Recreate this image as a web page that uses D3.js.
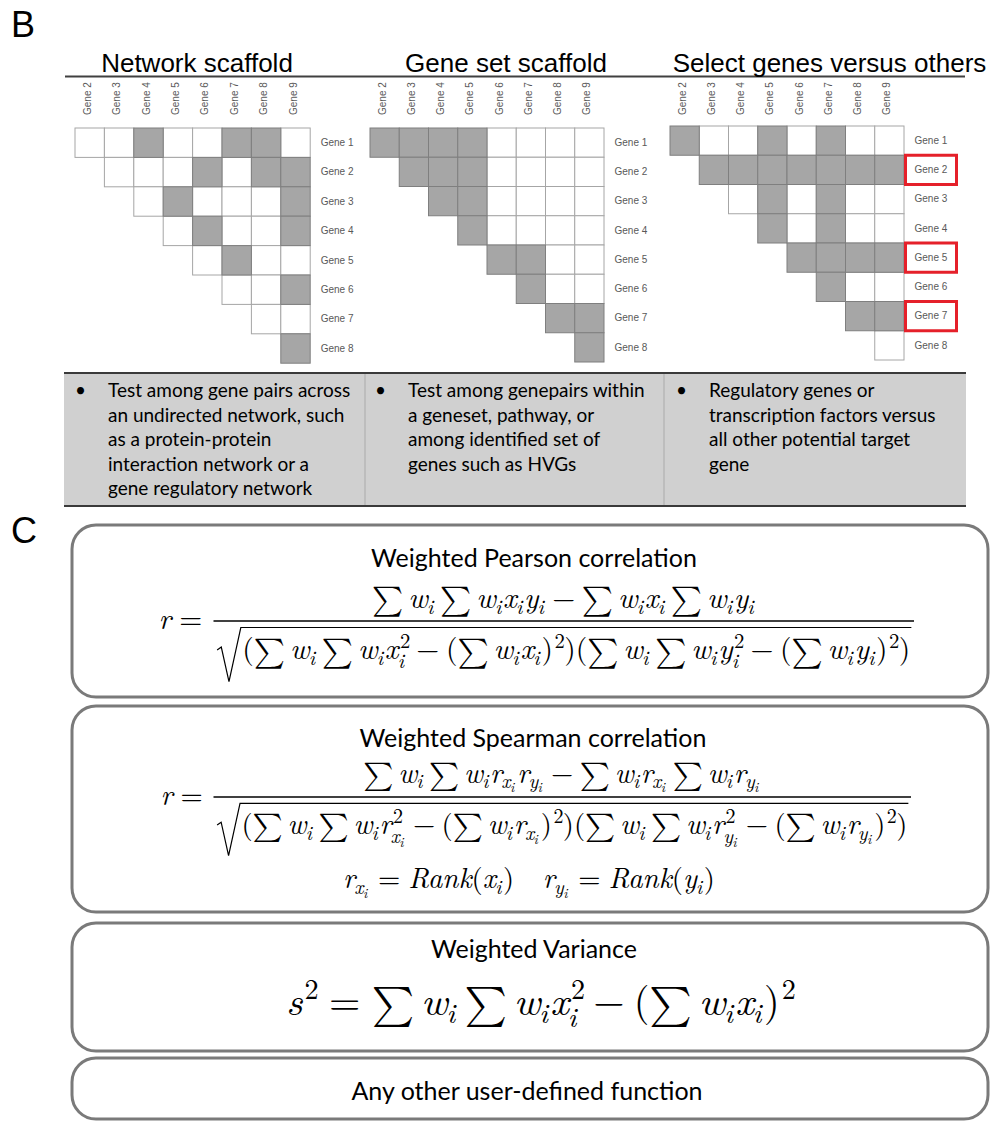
<!DOCTYPE html>
<html>
<head>
<meta charset="utf-8">
<script src="https://cdn.jsdelivr.net/npm/d3@7"></script>
<style>
  body { margin: 0; background: #fff; }
  svg { display: block; }
</style>
</head>
<body>
<svg id="fig" width="993" height="1122"></svg>
<script>
// ---------------- data ----------------
const panelLetters = ["B", "C"];
const colGenes = ["Gene 2", "Gene 3", "Gene 4", "Gene 5", "Gene 6", "Gene 7", "Gene 8", "Gene 9"];
const rowGenes = ["Gene 1", "Gene 2", "Gene 3", "Gene 4", "Gene 5", "Gene 6", "Gene 7", "Gene 8"];
const scaffoldTitles = ["Network scaffold", "Gene set scaffold", "Select genes versus others"];

// tested gene pairs [row gene, column gene]
const networkPairs = [[1,4],[1,7],[1,8],[2,6],[2,8],[2,9],[3,5],[3,9],[4,6],[4,9],[5,7],[6,9],[8,9]];
const genesetPairs = [[1,2],[1,3],[1,4],[1,5],[2,3],[2,4],[2,5],[3,4],[3,5],[4,5],[5,6],[5,7],[6,7],[7,8],[7,9],[8,9]];
const selectPairs  = [[1,2],[1,5],[1,7],[2,3],[2,4],[2,5],[2,6],[2,7],[2,8],[2,9],[3,5],[3,7],[4,5],[4,7],[5,6],[5,7],[5,8],[5,9],[6,7],[7,8],[7,9]];
const selectedGenes = ["Gene 2", "Gene 5", "Gene 7"];

const scaffoldNotes = [
  ["Test among gene pairs across", "an undirected network, such", "as a protein-protein", "interaction network or a", "gene regulatory network"],
  ["Test among genepairs within", "a geneset, pathway, or", "among identified set of", "genes such as HVGs"],
  ["Regulatory genes or", "transcription factors versus", "all other potential target", "gene"]
];

const functionTitles = ["Weighted Pearson correlation", "Weighted Spearman correlation", "Weighted Variance", "Any other user-defined function"];

// ---------------- formula tokens ----------------
const S = {sum: true};
const W = {v: "w", sub: "i"};
const X = {v: "x", sub: "i"};
const Y = {v: "y", sub: "i"};
const X2 = {v: "x", sub: "i", sup: "2"};
const Y2 = {v: "y", sub: "i", sup: "2"};
const RX = {v: "r", sub: {v: "x", sub: "i"}};
const RY = {v: "r", sub: {v: "y", sub: "i"}};
const RX2 = {v: "r", sub: {v: "x", sub: "i"}, sup: "2"};
const RY2 = {v: "r", sub: {v: "y", sub: "i"}, sup: "2"};
const MINUS = {op: "\u2212"};
const EQ = {op: "=", space: 0.278};
const LP = {p: "("};
const RP = {p: ")"};
const RP2 = {p: ")", sup: "2"};

const pearsonLhs = [{v: "r"}, EQ];
const pearsonNum = [S, W, S, W, X, Y, MINUS, S, W, X, S, W, Y];
const pearsonDen = [LP, S, W, S, W, X2, MINUS, LP, S, W, X, RP2, RP, LP, S, W, S, W, Y2, MINUS, LP, S, W, Y, RP2, RP];

const spearmanLhs = [{v: "r"}, EQ];
const spearmanNum = [S, W, S, W, RX, RY, MINUS, S, W, RX, S, W, RY];
const spearmanDen = [LP, S, W, S, W, RX2, MINUS, LP, S, W, RX, RP2, RP, LP, S, W, S, W, RY2, MINUS, LP, S, W, RY, RP2, RP];
const rankLine = [RX, EQ, {v: "Rank"}, LP, {v: "x", sub: "i"}, RP, {gap: 1}, RY, EQ, {v: "Rank"}, LP, {v: "y", sub: "i"}, RP];

const varianceLine = [{v: "s", sup: "2"}, EQ, S, W, S, W, X2, MINUS, LP, S, W, X, RP2];

// ---------------- fonts ----------------
// first installed family from a list that can draw the probe text
function firstInstalled(cands, fallback, probe, style) {
  const ctx = document.createElement("canvas").getContext("2d");
  const widthOf = f => { ctx.font = `${style} 40px ${f}`; return ctx.measureText(probe).width; };
  const mono = widthOf("monospace");
  const sans = widthOf("sans-serif");
  for (const c of cands) {
    const a = widthOf(`'${c}', monospace`);
    const b = widthOf(`'${c}', sans-serif`);
    if (Math.abs(a - b) < 0.01 && (Math.abs(a - mono) > 0.01 || Math.abs(b - sans) > 0.01)) return `'${c}'`;
  }
  return fallback;
}
const SANS = "'Liberation Sans', Arial, sans-serif";
const BODY = "Lato, 'Open Sans', sans-serif";
const MATH = firstInstalled(["Latin Modern Roman", "CMU Serif", "DejaVu Serif", "Liberation Serif", "Noto Serif",
  "Tinos", "Times New Roman", "FreeSerif", "Nimbus Roman", "TeX Gyre Termes", "STIX Two Text", "Georgia",
  "PT Serif", "Source Serif Pro"], "'DejaVu Sans', sans-serif", "wxyrsRank()=2 abcdefghijklm", "italic");
const SUMF = firstInstalled(["Latin Modern Math", "CMU Serif", "Latin Modern Roman", "STIX Two Math", "TeX Gyre Termes Math",
  "DejaVu Serif", "Liberation Serif", "Noto Serif", "FreeSerif"], "'DejaVu Sans', sans-serif", "\u2211\u2211\u2211", "normal");

const svg = d3.select("#fig");

// panel letters
svg.selectAll("text.panel-letter").data(panelLetters).join("text")
  .attr("class", "panel-letter")
  .attr("x", 11)
  .attr("y", (d, i) => [37, 543][i])
  .attr("font-family", SANS).attr("font-size", 36).attr("fill", "#000")
  .text(d => d);

// ---------------- section B: scaffolds ----------------
const scaffoldLayout = [
  {left: 75,  top: 128, cell: 29.4,  titleX: 197},
  {left: 370, top: 128, cell: 29.25, titleX: 506},
  {left: 670, top: 126, cell: 29.25, titleX: 829.5}
];
const scaffoldPairs = [networkPairs, genesetPairs, selectPairs];

// title rule
svg.append("line").attr("x1", 65).attr("x2", 965).attr("y1", 76.5).attr("y2", 76.5)
  .attr("stroke", "#404040").attr("stroke-width", 2);

scaffoldLayout.forEach((L, k) => {
  const g = svg.append("g");
  const x = d3.scaleBand().domain(colGenes).range([L.left, L.left + L.cell * colGenes.length]);
  const y = d3.scaleBand().domain(rowGenes).range([L.top, L.top + L.cell * rowGenes.length]);
  const on = new Set(scaffoldPairs[k].map(([a, b]) => `Gene ${a}|Gene ${b}`));

  const cells = [];
  rowGenes.forEach((rg, ri) => colGenes.forEach((cg, ci) => {
    if (ci >= ri) cells.push({r: rg, c: cg, on: on.has(`${rg}|${cg}`)});
  }));
  cells.sort((a, b) => a.on - b.on);

  g.append("text")
    .attr("x", L.titleX).attr("y", 72)
    .attr("text-anchor", "middle")
    .attr("font-family", SANS).attr("font-size", 26).attr("fill", "#000")
    .text(scaffoldTitles[k]);

  g.selectAll("rect.cell").data(cells).join("rect")
    .attr("class", "cell")
    .attr("x", d => x(d.c)).attr("y", d => y(d.r))
    .attr("width", x.bandwidth()).attr("height", y.bandwidth())
    .attr("fill", d => d.on ? "#a6a6a6" : "#fff")
    .attr("stroke", d => d.on ? "#7f7f7f" : "#a6a6a6")
    .attr("stroke-width", 1);

  // column labels
  const ca = g.append("g").attr("transform", "translate(0,115)")
    .call(d3.axisTop(x).tickSize(0).tickPadding(0));
  ca.select(".domain").remove();
  ca.selectAll("text")
    .attr("transform", "rotate(-90)").attr("x", 0).attr("y", 0).attr("dy", "0.1em")
    .attr("text-anchor", "start")
    .attr("font-family", SANS).attr("font-size", 10).attr("fill", "#595959");

  // row labels
  const right = L.left + L.cell * colGenes.length;
  const ra = g.append("g").attr("transform", `translate(${right},0)`)
    .call(d3.axisRight(y).tickSize(0).tickPadding(10.5));
  ra.select(".domain").remove();
  ra.selectAll("text")
    .attr("font-family", SANS).attr("font-size", 10).attr("fill", "#595959");

  if (k === 2) {
    g.selectAll("rect.hl").data(selectedGenes).join("rect")
      .attr("class", "hl")
      .attr("x", right + 1.5).attr("y", d => y(d))
      .attr("width", 51).attr("height", y.bandwidth())
      .attr("fill", "none").attr("stroke", "#e5202a").attr("stroke-width", 3);
  }
});

// notes table
const notes = svg.append("g");
notes.append("rect").attr("x", 64).attr("y", 373).attr("width", 902).attr("height", 133).attr("fill", "#d0d0d0");
notes.selectAll("line.div").data([365, 664]).join("line")
  .attr("class", "div")
  .attr("x1", d => d).attr("x2", d => d).attr("y1", 373).attr("y2", 506)
  .attr("stroke", "#aaaaaa").attr("stroke-width", 1);
notes.selectAll("line.rule").data([373, 506]).join("line")
  .attr("class", "rule")
  .attr("x1", 64).attr("x2", 966).attr("y1", d => d).attr("y2", d => d)
  .attr("stroke", "#3a3a3a").attr("stroke-width", 2);

const noteCols = [{bx: 75, tx: 108}, {bx: 375, tx: 408}, {bx: 676, tx: 709}];
scaffoldNotes.forEach((lines, i) => {
  notes.append("text").attr("x", noteCols[i].bx).attr("y", 397)
    .attr("font-family", BODY).attr("font-size", 19).attr("fill", "#000").text("\u2022");
  notes.selectAll(null).data(lines).join("text")
    .attr("x", noteCols[i].tx).attr("y", (d, j) => 397 + j * 24.5)
    .attr("font-family", BODY).attr("font-size", 19).attr("fill", "#000")
    .text(d => d);
});

// ---------------- section C: function boxes ----------------
const boxes = [
  {y0: 525, y1: 697, titleY: 567, titleX: 534},
  {y0: 706, y1: 912, titleY: 747, titleX: 533},
  {y0: 923, y1: 1051, titleY: 958, titleX: 534},
  {y0: 1058, y1: 1119, titleY: 1100, titleX: 527}
];
svg.selectAll("rect.fbox").data(boxes).join("rect")
  .attr("class", "fbox")
  .attr("x", 72).attr("y", d => d.y0).attr("width", 916).attr("height", d => d.y1 - d.y0)
  .attr("rx", 24).attr("ry", 24)
  .attr("fill", "#fff").attr("stroke", "#7a7a7a").attr("stroke-width", 3);
svg.selectAll("text.ftitle").data(boxes).join("text")
  .attr("class", "ftitle")
  .attr("x", d => d.titleX).attr("y", d => d.titleY)
  .attr("text-anchor", "middle")
  .attr("font-family", BODY).attr("font-size", 25).attr("fill", "#000")
  .text((d, i) => functionTitles[i]);

// ---------------- small math typesetter ----------------
function glyph(g, txt, x, y, fs, italic, fam) {
  const t = g.append("text").attr("x", x).attr("y", y)
    .attr("font-family", fam || MATH).attr("font-size", fs)
    .attr("font-style", italic ? "italic" : "normal")
    .attr("fill", "#000")
    .text(txt);
  return t.node().getComputedTextLength();
}
function asItems(s) {
  if (Array.isArray(s)) return s;
  if (typeof s === "string") return [/^\d+$/.test(s) ? {p: s} : {v: s}];
  return [s];
}
function mrow(g, items, x, y, fs) {
  let cx = x, prev = null;
  for (const it of items) {
    if (it.sum && prev && !prev.op && prev.p !== "(") cx += fs * 0.167;
    cx += mitem(g, it, cx, y, fs);
    prev = it;
  }
  return cx - x;
}
function mitem(g, it, x, y, fs) {
  if (it.gap != null) return it.gap * fs;
  if (it.op) {
    const s = fs * (it.space != null ? it.space : 0.222);
    return glyph(g, it.op, x + s, y, fs, false) + 2 * s;
  }
  if (it.sum) {
    return glyph(g, "\u2211", x, y + fs * 0.04, fs * 1.0, false, SUMF) + fs * 0.167;
  }
  const w = it.v ? glyph(g, it.v, x, y, fs, true) : glyph(g, it.p, x, y, fs, false);
  const sfs = fs * 0.7;
  let sw = 0;
  if (it.sup) sw = Math.max(sw, mrow(g, asItems(it.sup), x + w + fs * 0.05, y - fs * 0.4, sfs));
  if (it.sub) sw = Math.max(sw, mrow(g, asItems(it.sub), x + w - (it.v ? fs * 0.03 : 0), y + fs * (it.sup ? 0.3 : 0.2), sfs));
  return w + sw + (sw ? fs * 0.03 : 0);
}
function measure(items, fs) {
  const g = svg.append("g");
  const w = mrow(g, items, 0, 0, fs);
  g.remove();
  return w;
}

// fraction with square-root denominator, sized so the root spans the bar
function fraction(spec) {
  const g = svg.append("g");
  const rad = 0.85;
  const fs = 20 * (spec.x1 - spec.x0 - 7) / (measure(spec.den, 20) + rad * 20);
  const cx = (spec.x0 + spec.x1) / 2;

  g.append("line").attr("x1", spec.x0).attr("x2", spec.x1)
    .attr("y1", spec.barY).attr("y2", spec.barY)
    .attr("stroke", "#000").attr("stroke-width", 1.3);

  const nw = measure(spec.num, fs);
  mrow(g, spec.num, cx - nw / 2, spec.barY - spec.numGap * fs, fs);

  const dw = measure(spec.den, fs);
  const dx = cx - (dw + rad * fs) / 2;
  const dy = spec.barY + spec.denGap * fs;
  mrow(g, spec.den, dx + rad * fs, dy, fs);
  const top = dy - 1.08 * fs, bot = dy + 0.75 * fs;
  g.append("path")
    .attr("d", `M${dx},${dy - 0.32 * fs} L${dx + 0.14 * fs},${dy - 0.42 * fs} L${dx + 0.4 * fs},${bot} L${dx + 0.8 * fs},${top} L${dx + rad * fs + dw + 1},${top}`)
    .attr("fill", "none").attr("stroke", "#000").attr("stroke-width", 1.2).attr("stroke-linejoin", "miter");

  const lw = measure(spec.lhs, fs);
  mrow(g, spec.lhs, spec.x0 - 0.1 * fs - lw, spec.barY + 0.27 * fs, fs);
  return fs;
}

fraction({lhs: pearsonLhs, num: pearsonNum, den: pearsonDen, x0: 213.5, x1: 914, barY: 621, numGap: 0.45, denGap: 1.3});
const fsSp = fraction({lhs: spearmanLhs, num: spearmanNum, den: spearmanDen, x0: 213.5, x1: 911, barY: 797, numGap: 0.5, denGap: 1.3});

// rank definitions
{
  const g = svg.append("g");
  const w = measure(rankLine, fsSp);
  mrow(g, rankLine, 529 - w / 2, 888, fsSp);
}
// weighted variance, larger display
{
  const g = svg.append("g");
  const fs = 20 * 509 / measure(varianceLine, 20);
  const w = measure(varianceLine, fs);
  mrow(g, varianceLine, 540.5 - w / 2, 1015, fs);
}
</script>
</body>
</html>
